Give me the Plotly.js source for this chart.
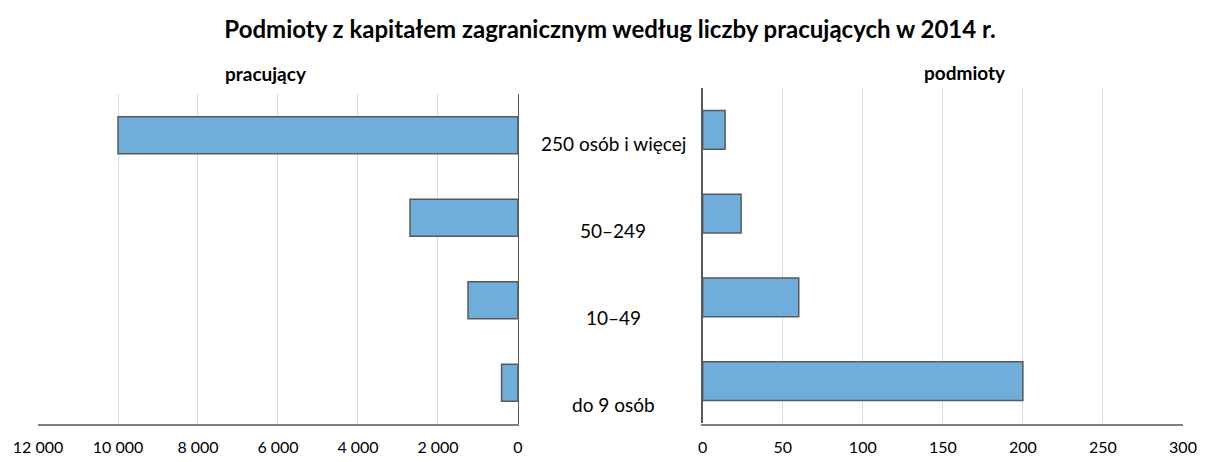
<!DOCTYPE html>
<html><head><meta charset="utf-8">
<script src="https://cdn.plot.ly/plotly-3.0.1.min.js"></script>
<style>body{margin:0;background:#fff}#c{width:1208px;height:462px}</style>
</head><body><div id="c"></div>
<script>
const categories = ["250 osób i więcej", "50–249", "10–49", "do 9 osób"];
const pracujacy = [10000, 2700, 1250, 410];
const podmioty = [14, 24, 60, 200];
const leftTicks = [0, 2000, 4000, 6000, 8000, 10000, 12000];
const rightTicks = [0, 50, 100, 150, 200, 250, 300];

const FONT = "Lato, 'Open Sans', sans-serif";
const barStyle = {color: "#6fadda", line: {color: "#595959", width: 1.5}};

const traces = [
  {type: "bar", orientation: "h", x: pracujacy, y: categories, xaxis: "x", yaxis: "y",
   marker: barStyle, width: 0.45, hoverinfo: "x+y"},
  {type: "bar", orientation: "h", x: podmioty, y: categories, xaxis: "x2", yaxis: "y2",
   marker: barStyle, width: 0.46, hoverinfo: "x+y"}
];

const plotTop = 88, plotBot = 424, H = plotBot - plotTop;
const labTop = 143, labStep = 87.3;
const annotations = categories.map((c, i) => ({
  text: c, xref: "paper", yref: "paper", x: 0.5025, y: (plotBot - (labTop + i * labStep)) / H,
  showarrow: false, font: {family: FONT, size: 19, color: "#000"}, xanchor: "center", yanchor: "middle"
}));
annotations.push({text: "<b>pracujący</b>", xref: "paper", yref: "paper", x: 0.199, y: (plotBot - 74) / H,
  showarrow: false, font: {family: FONT, size: 19, color: "#000"}, xanchor: "center", yanchor: "middle"});
annotations.push({text: "<b>podmioty</b>", xref: "paper", yref: "paper", x: 0.810, y: (plotBot - 73) / H,
  showarrow: false, font: {family: FONT, size: 19, color: "#000"}, xanchor: "center", yanchor: "middle"});

const xCommon = {
  showgrid: true, gridcolor: "#d9d9d9", gridwidth: 1,
  showline: true, linecolor: "#7f7f7f", linewidth: 1.5,
  ticks: "outside", ticklen: 8, tickcolor: "rgba(0,0,0,0)",
  tickfont: {family: FONT, size: 16, color: "#000"},
  tickformat: ",d", zeroline: false, fixedrange: true
};

const layout = {
  width: 1208, height: 462,
  margin: {l: 38, r: 25, t: plotTop, b: 462 - plotBot},
  paper_bgcolor: "#fff", plot_bgcolor: "rgba(0,0,0,0)",
  separators: ", ",
  showlegend: false, bargap: 0,
  title: {text: "<b>Podmioty z kapitałem zagranicznym według liczby pracujących w 2014 r.</b>",
          font: {family: FONT, size: 24, color: "#000"}, x: 0.505, xanchor: "center", y: 0.935, yanchor: "middle"},
  xaxis: Object.assign({}, xCommon, {domain: [0, 0.4192], range: [12000, 0], tickvals: leftTicks}),
  xaxis2: Object.assign({}, xCommon, {domain: [0.5805, 1], range: [0, 300], tickvals: rightTicks}),
  yaxis: {domain: [0, (plotBot - 94) / H], autorange: "reversed", showticklabels: false, showgrid: false,
          showline: true, linecolor: "#595959", linewidth: 1.5, side: "right", anchor: "x", zeroline: false, ticks: ""},
  yaxis2: {domain: [(plotBot - 423) / H, 1], autorange: "reversed", showticklabels: false, showgrid: false,
           showline: true, linecolor: "#595959", linewidth: 1.5, side: "left", anchor: "x2", zeroline: false, ticks: ""},
  annotations: annotations
};

Plotly.newPlot("c", traces, layout, {displayModeBar: false, staticPlot: true});
</script></body></html>
